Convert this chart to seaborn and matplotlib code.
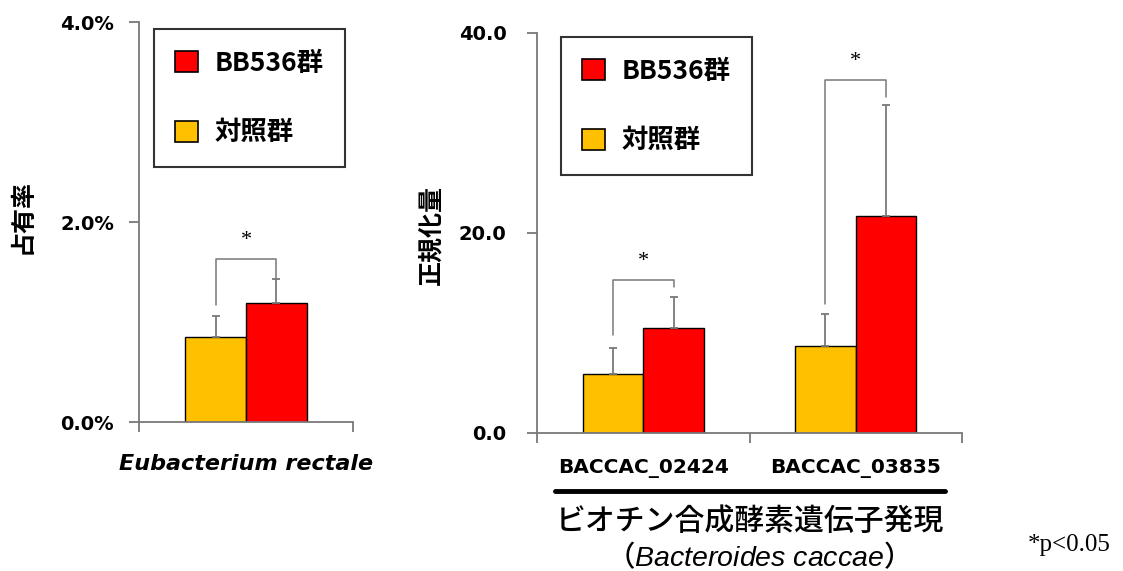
import pandas as pd
import matplotlib
matplotlib.use('Agg')
import matplotlib.pyplot as plt
from matplotlib.patches import Patch
from matplotlib.lines import Line2D
import seaborn as sns

# data
groups = ['対照群', 'BB536群']
colors = {'対照群': '#FFC000', 'BB536群': '#FF0000'}

left_cat = ['Eubacterium rectale']
left_ctrl = [0.85]       # %
left_bb = [1.19]
left_ctrl_sd = [0.21]
left_bb_sd = [0.24]
left_brk_top = [1.63]
left_brk_l = [1.17]
left_brk_r = [1.43]

right_cats = ['BACCAC_02424', 'BACCAC_03835']
right_ctrl = [5.9, 8.7]
right_bb = [10.5, 21.7]
right_ctrl_sd = [2.6, 3.2]
right_bb_sd = [3.1, 11.1]
right_brk_top = [15.3, 35.3]
right_brk_l = [9.8, 12.9]
right_brk_r = [14.6, 33.6]

sns.set_theme(style='white')
plt.rcParams['font.family'] = ['Noto Sans CJK JP', 'DejaVu Sans']
plt.rcParams['mathtext.fontset'] = 'custom'
plt.rcParams['mathtext.it'] = 'Liberation Sans:italic'
plt.rcParams['text.color'] = 'black'
plt.rcParams['axes.labelcolor'] = 'black'

fig = plt.figure(figsize=(11.23, 5.71), dpi=100)
ax1 = fig.add_axes([139/1123, 1-422/571, 214/1123, 400/571])
ax2 = fig.add_axes([537/1123, 1-433/571, 425/1123, 400/571])

GRAY = '#787878'


def draw(ax, cats, ctrl, bb, ctrl_sd, bb_sd, btop, bl, br):
    df = pd.DataFrame({
        'cat': cats * 2,
        'group': [groups[0]] * len(cats) + [groups[1]] * len(cats),
        'val': ctrl + bb,
    })
    sns.barplot(data=df, x='cat', y='val', hue='group', hue_order=groups,
                palette=colors, saturation=1, edgecolor='black', linewidth=1,
                width=0.57, errorbar=None, legend=False, ax=ax, zorder=2)
    xs_c = [p.get_x() + p.get_width() / 2 for p in ax.containers[0]]
    xs_b = [p.get_x() + p.get_width() / 2 for p in ax.containers[1]]
    for xs, v, sd in [(xs_c, ctrl, ctrl_sd), (xs_b, bb, bb_sd)]:
        ax.errorbar(xs, v, yerr=[[0] * len(v), sd], fmt='none', ecolor=GRAY,
                    elinewidth=1.3, capsize=3, capthick=1.3, zorder=3)
    for i in range(len(cats)):
        ax.plot([xs_c[i], xs_c[i], xs_b[i], xs_b[i]], [bl[i], btop[i], btop[i], br[i]],
                color=GRAY, lw=1.1, zorder=3)
        ax.annotate('*', xy=((xs_c[i] + xs_b[i]) / 2, btop[i]), xytext=(0, 13),
                    textcoords='offset points', ha='center', va='center',
                    fontsize=16, family='Liberation Serif')
    for s in ['top', 'right']:
        ax.spines[s].set_visible(False)
    for s in ['left', 'bottom']:
        ax.spines[s].set_color(GRAY)
        ax.spines[s].set_linewidth(1.3)
    ax.set_xlabel('')
    ax.set_ylabel('')
    ax.tick_params(axis='both', which='both', direction='out', length=7,
                   color=GRAY, width=1.3, left=True, bottom=True, labelcolor='black')
    handles = [Patch(facecolor=colors[g], edgecolor='black', lw=1.2) for g in groups[::-1]]
    return handles


h = draw(ax1, left_cat, left_ctrl, left_bb, left_ctrl_sd, left_bb_sd,
         left_brk_top, left_brk_l, left_brk_r)
draw(ax2, right_cats, right_ctrl, right_bb, right_ctrl_sd, right_bb_sd,
     right_brk_top, right_brk_l, right_brk_r)

# left axis
ax1.set_ylim(0, 4)
ax1.set_xlim(-0.5, 0.5)
ax1.set_yticks([0, 2, 4], [f'{v:.1f}%' for v in [0, 2, 4]], fontweight='bold',
               fontsize=14, family='DejaVu Sans')
ax1.tick_params(axis='y', pad=11)
ax1.set_xticks([-0.5, 0.5], ['', ''])
ax1.text(0.5, -0.105, left_cat[0], transform=ax1.transAxes, ha='center', va='center',
         fontsize=16, fontweight='bold', style='italic', family='DejaVu Sans')
ax1.set_ylabel('占有率', fontsize=18, fontweight='bold')
ax1.yaxis.set_label_coords(-0.487, 0.515)

# right axis
ax2.set_ylim(0, 40)
ax2.set_xlim(-0.5, 1.5)
ax2.set_yticks([0, 20, 40], [f'{v:.1f}' for v in [0, 20, 40]], fontweight='bold',
               fontsize=14, family='DejaVu Sans')
ax2.tick_params(axis='y', pad=15)
ax2.set_xticks([-0.5, 0.5, 1.5], ['', '', ''])
ax2.set_xticks([0, 1], right_cats, minor=True, fontweight='bold', fontsize=14.5,
               family='DejaVu Sans')
ax2.tick_params(axis='x', which='minor', length=0, pad=19)
ax2.set_ylabel('正規化量', fontsize=18, fontweight='bold')
ax2.yaxis.set_label_coords(-0.221, 0.495)

for ax, anchor in [(ax1, (0.070, 0.9825)), (ax2, (0.0565, 0.99))]:
    leg = ax.legend(h, groups[::-1], loc='upper left', bbox_to_anchor=anchor,
                    borderaxespad=0, frameon=True, fancybox=False, edgecolor='black',
                    handlelength=0.85, handleheight=0.85, handletextpad=0.65,
                    labelspacing=1.6, borderpad=0.8,
                    prop={'weight': 'bold', 'size': 19})
    leg.get_frame().set_linewidth(1.5)

fig.add_artist(Line2D([555/1123, 945/1123], [1-491/571, 1-491/571], color='black', lw=3.5))
fig.text(750/1123, 1-521/571, 'ビオチン合成酵素遺伝子発現', ha='center', va='center',
         fontsize=21.5, fontweight='medium')
fig.text(750/1123, 1-556/571, '（$\\mathit{Bacteroides\\ caccae}$）', ha='center', va='center',
         fontsize=20.5, fontweight='medium')
fig.text(1069/1123, 1-545/571, '*p<0.05', ha='center', va='center', fontsize=18,
         family='Liberation Serif')

fig.savefig('out.png', dpi=100)
